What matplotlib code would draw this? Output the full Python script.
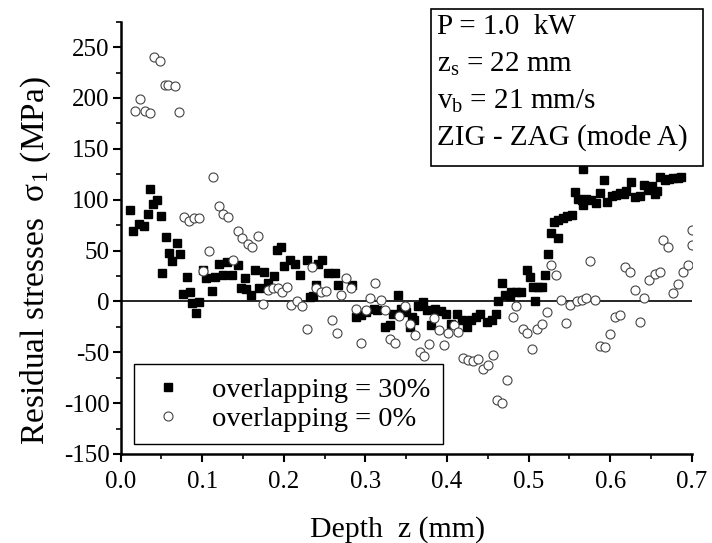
import matplotlib
matplotlib.use('Agg')
import matplotlib.pyplot as plt
from matplotlib.patches import Rectangle
from matplotlib.ticker import MultipleLocator

plt.rcParams['font.family'] = ['Liberation Serif', 'DejaVu Serif']
plt.rcParams['mathtext.fontset'] = 'custom'
plt.rcParams['mathtext.rm'] = 'Liberation Serif'
plt.rcParams['mathtext.it'] = 'Liberation Serif:italic'

# overlapping = 30% (cuadrados)
x_30 = [0.012, 0.015, 0.022, 0.029, 0.033, 0.036, 0.040, 0.044, 0.049, 0.051,
        0.055, 0.059, 0.063, 0.069, 0.073, 0.076, 0.081, 0.085, 0.088, 0.092,
        0.096, 0.101, 0.105, 0.1115, 0.116, 0.120, 0.126, 0.130, 0.136, 0.144,
        0.147, 0.152, 0.154, 0.160, 0.165, 0.170, 0.176, 0.181, 0.188, 0.192,
        0.196, 0.200, 0.207, 0.214, 0.220, 0.228, 0.232, 0.236, 0.240, 0.242,
        0.247, 0.254, 0.263, 0.267, 0.283, 0.289, 0.295, 0.301, 0.310, 0.314,
        0.324, 0.330, 0.334, 0.340, 0.344, 0.350, 0.355, 0.357, 0.360, 0.365,
        0.370, 0.375, 0.381, 0.385, 0.393, 0.399, 0.405, 0.412, 0.418, 0.424,
        0.430, 0.436, 0.440, 0.449, 0.455, 0.460, 0.463, 0.468, 0.471, 0.477,
        0.479, 0.485, 0.491, 0.4975, 0.502, 0.506, 0.508, 0.512, 0.516, 0.520,
        0.524, 0.527, 0.531, 0.536, 0.536, 0.542, 0.547, 0.553, 0.557, 0.561,
        0.565, 0.567, 0.567, 0.571, 0.577, 0.583, 0.588, 0.593, 0.596, 0.602,
        0.607, 0.612, 0.617, 0.620, 0.626, 0.630, 0.636, 0.641, 0.647, 0.651,
        0.655, 0.657, 0.661, 0.667, 0.672, 0.677, 0.683, 0.687]
y_30 = [90, 69, 76, 74, 86, 111, 96, 100, 84, 28,
        63, 48, 40, 57, 47, 7, 24, 9, -2, -11,
        -1, 31, 23, 10, 24, 37, 26, 39, 26, 36,
        13, 23, 12, 6, 31, 13, 29, 18, 25, 51,
        53, 35, 41, 37, 26, 41, 4, 5, 16, 37,
        41, 28, 28, 16, 16, -15, -13, -10, -7, -8,
        -25, -23, -12, 6, -7, -10, -25, -15, -18, -5,
        -1, -8, -23, -7, -9, -12, -22, -12, -18, -25,
        -18, -15, -12, -20, -18, -12, 0, 18, 6, 5,
        9, 9, 9, 31, 24, 14, 0, 14, 14, 26,
        47, 67, 78, 62, 80, 82, 84, 85, 108, 101,
        100, 95, 130, 101, 100, 97, 107, 119, 98, 104,
        105, 107, 106, 109, 117, 103, 104, 114, 110, 113,
        106, 109, 122, 119, 120, 121, 121, 122]

# overlapping = 0% (circulos)
x_0 = [0.018, 0.024, 0.030, 0.036, 0.041, 0.048, 0.054, 0.058, 0.066, 0.072,
       0.078, 0.084, 0.090, 0.096, 0.101, 0.1085, 0.1135, 0.120, 0.126, 0.132,
       0.138, 0.144, 0.149, 0.156, 0.161, 0.168, 0.174, 0.181, 0.187, 0.193,
       0.198, 0.204, 0.209, 0.216, 0.222, 0.229, 0.234, 0.240, 0.246, 0.252,
       0.259, 0.265, 0.270, 0.276, 0.282, 0.288, 0.294, 0.301, 0.306, 0.312,
       0.319, 0.324, 0.330, 0.336, 0.341, 0.348, 0.355, 0.361, 0.367, 0.372,
       0.378, 0.384, 0.390, 0.396, 0.401, 0.408, 0.414, 0.420, 0.426, 0.432,
       0.438, 0.444, 0.450, 0.457, 0.4615, 0.468, 0.474, 0.481, 0.485, 0.493,
       0.498, 0.504, 0.510, 0.516, 0.522, 0.528, 0.534, 0.540, 0.546, 0.551,
       0.559, 0.565, 0.570, 0.575, 0.582, 0.587, 0.594, 0.600, 0.606, 0.612,
       0.618, 0.624, 0.630, 0.636, 0.642, 0.648, 0.655, 0.661, 0.665, 0.671,
       0.677, 0.683, 0.689, 0.696, 0.700, 0.700]
y_0 = [187, 199, 187, 185, 240, 236, 213, 213, 212, 186,
       83, 79, 82, 82, 30, 50, 122, 94, 86, 83,
       41, 69, 62, 56, 53, 64, -3, 11, 13, 13,
       9, 14, -4, 0, -5, -27, 34, 13, 9, 10,
       -18, -31, 6, 23, 13, -7, -41, -8, 3, 18,
       1, -8, -37, -41, -14, -5, -22, -33, -50, -54,
       -42, -16, -28, -43, -31, -23, -30, -56, -58, -59,
       -57, -66, -63, -53, -97, -100, -77, -15, -5, -27,
       -31, -47, -27, -22, -10, 36, 26, 1, -21, -4,
       0, 1, 3, 40, 1, -44, -45, -32, -15, -13,
       34, 29, 11, -20, 3, 21, 27, 29, 60, 53,
       8, 17, 29, 36, 55, 70]

x_ticks = [0, 0.1, 0.2, 0.3, 0.4, 0.5, 0.6, 0.7]
x_tick_labels = ['0.0', '0.1', '0.2', '0.3', '0.4', '0.5', '0.6', '0.7']
y_ticks = [-150, -100, -50, 0, 50, 100, 150, 200, 250]
y_tick_labels = ['-150', '-100', '-50', '0', '50', '100', '150', '200', '250']

info_lines = ['P = 1.0  kW', 'z$_\\mathrm{s}$ = 22 mm', 'v$_\\mathrm{b}$ = 21 mm/s',
              'ZIG - ZAG (mode A)']

fig = plt.figure(figsize=(7.12, 5.43), dpi=100)
ax = fig.add_axes([0.1695, 0.164, 0.802, 0.796])

ax.axhline(0, color='black', lw=1.2, zorder=1)
ax.plot(x_30, y_30, 's', color='black', markersize=6, label='overlapping = 30%', zorder=2)
ax.plot(x_0, y_0, 'o', markerfacecolor='white', markeredgecolor='#444444',
        markeredgewidth=0.8, markersize=6.5, label='overlapping = 0%', zorder=3)

ax.set_xlim(0, 0.7)
ax.set_ylim(-150, 275)
ax.xaxis.set_minor_locator(MultipleLocator(0.05))
ax.yaxis.set_minor_locator(MultipleLocator(25))
ax.set_xticks(x_ticks)
ax.set_xticklabels(x_tick_labels)
ax.set_yticks(y_ticks)
ax.set_yticklabels(y_tick_labels)
ax.tick_params(which='major', direction='out', length=6, width=1.5, labelsize=18)
ax.tick_params(which='minor', direction='out', length=3.5, width=1.2)
ax.tick_params(axis='x', which='major', pad=6)
ax.tick_params(axis='y', which='major', pad=2)
ax.spines['top'].set_visible(False)
ax.spines['right'].set_visible(False)
ax.spines['left'].set_linewidth(1.8)
ax.spines['bottom'].set_linewidth(1.8)

ax.set_xlabel('Depth  z (mm)', fontsize=21.5)
ax.set_ylabel('Residual stresses  σ$_\\mathrm{1}$ (MPa)', fontsize=24)
ax.xaxis.set_label_coords(0.485, -0.143)
ax.yaxis.set_label_coords(-0.118, 0.447)

leg = ax.legend(loc='lower left', bbox_to_anchor=(0.023, 0.022), borderaxespad=0,
                fontsize=20.5, frameon=True, fancybox=False, framealpha=1,
                edgecolor='black', handlelength=1.5, handletextpad=0.8,
                borderpad=0.45, labelspacing=0.1)
leg.get_frame().set_linewidth(1.0)

# cuadro de parametros
fig.patches.append(Rectangle((0.606, 0.695), 0.381, 0.288, transform=fig.transFigure,
                             facecolor='white', edgecolor='black', lw=1.2, zorder=5))
for i, line in enumerate(info_lines):
    fig.text(0.614, 0.950 - i * 0.068, line, fontsize=21, va='center', ha='left', zorder=6)

fig.savefig('out.png', dpi=100)
